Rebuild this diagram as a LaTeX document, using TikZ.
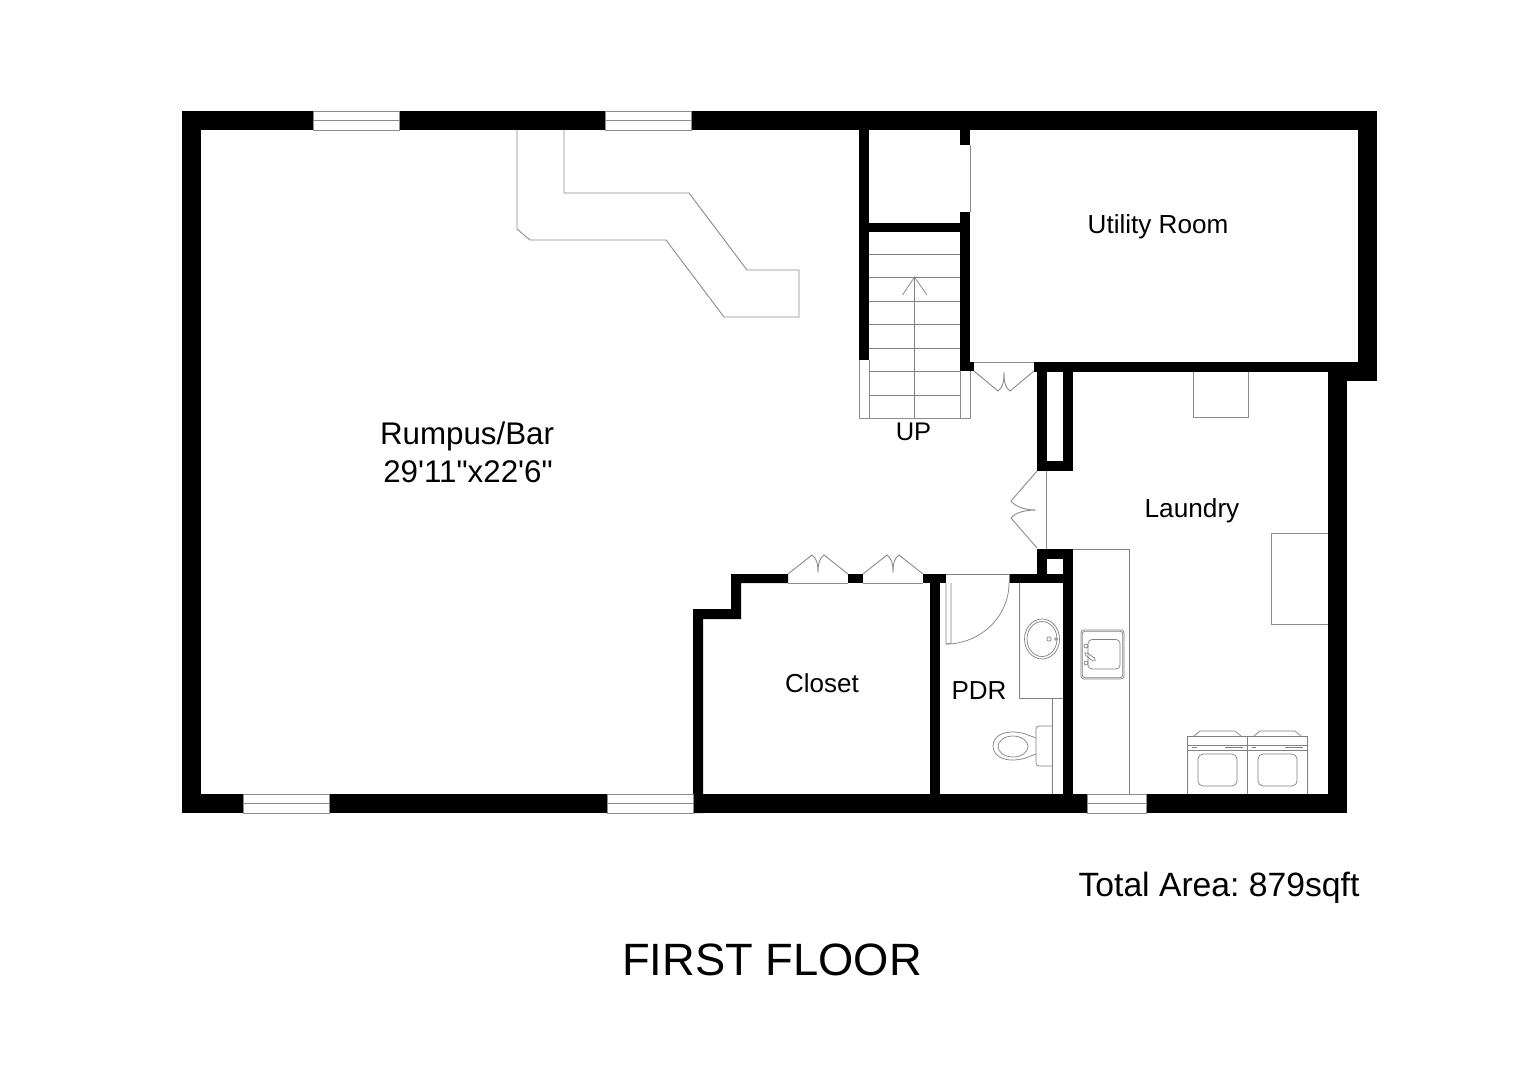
\documentclass[tikz,border=0pt]{standalone}
\usepackage{fontspec}
\setmainfont{Liberation Sans}
\newfontfamily\plainsans{Liberation Sans}
\frenchspacing
\tikzset{
  wall/.style={fill=black,draw=none},
  thin line/.style={draw=black!45,line width=0.9pt,line join=miter},
  fine line/.style={draw=black!50,line width=0.7pt},
  win/.style={fill=white,draw=black!45,line width=0.9pt},
  lbl/.style={inner sep=0pt,anchor=base,text=black},
}
\newcommand{\wl}[4]{\fill[wall] (#1,#2) rectangle (#3,#4);}
\newcommand{\winh}[2]{\draw[win] (#1,#2) rectangle ++(86,19); \draw[thin line] (#1,#2+9.5) -- ++(86,0);}
\begin{document}
\begin{tikzpicture}[x=1pt,y=-1pt]
\useasboundingbox (0,0) rectangle (1528,1080);
\fill[white] (0,0) rectangle (1528,1080);
% outer walls
\wl{182}{111}{1377}{130}
\wl{182}{111}{201}{813}
\wl{182}{794}{1347}{813}
\wl{1358}{111}{1377}{381}
\wl{1328}{362}{1377}{381}
\wl{1328}{362}{1347}{813}
\wl{1034}{362}{1377}{372}
% stair and closet under stair
\wl{859}{130}{869}{360}
\wl{859}{223}{970}{232}
\wl{960}{130}{970}{145}
\wl{960}{212}{970}{371}
\wl{960}{362}{974}{371}
% shaft
\wl{1037}{372}{1046.5}{471}
\wl{1063}{372}{1072.5}{471}
\wl{1037}{461}{1072.5}{471}
\wl{1037}{549}{1072.5}{559}
\wl{1037}{549}{1046.5}{583}
\wl{1063}{549}{1072.5}{794}
\wl{1009}{574}{1072.5}{583}
% closet
\fill[wall] (693,813) -- (693,609) -- (731,609) -- (731,574) -- (788,574) -- (788,583) -- (741,583) -- (741,619) -- (703,619) -- (703,813) -- cycle;
\wl{848}{574}{863}{583}
\wl{923}{574}{946}{583}
\wl{930}{574}{940}{794}
% windows
\winh{313}{111}
\winh{605}{111}
\winh{243}{794}
\winh{607.5}{794}
\draw[win] (1087,794) rectangle (1146,813); \draw[thin line] (1087,803.5) -- (1146,803.5);
% utility closet gap
\draw[thin line] (970,145) -- (970,212);
% stairs
\draw[thin line] (859,360) -- (859,418) -- (970,418) -- (970,371);
\draw[thin line] (869,360) -- (869,418);
\draw[thin line] (960,371) -- (960,418);
\foreach \yy in {254,277,301,324,348,371,395} {\draw[fine line] (869,\yy) -- (960,\yy);}
\draw[fine line] (914.5,418) -- (914.5,277);
\draw[fine line] (902.5,295) -- (914.5,277) -- (927,295);
% bar
\draw[thin line] (517,130) -- (517,229) -- (530,240) -- (666,240) -- (724,317) -- (799,317) -- (799,270) -- (747,270) -- (689,193) -- (564,193) -- (564,130);
% bifold doors
\draw[thin line] (974,362) -- (1034,362);
\draw[thin line] (974,371) -- (998,391) .. controls (1002,388) and (1004,384) .. (1004,372) .. controls (1004,384) and (1006,388) .. (1010,391) -- (1034,371);
\draw[thin line] (788,583) -- (848,583);
\draw[thin line] (788,574) -- (812,555) .. controls (816,558) and (818,562) .. (818,573) .. controls (818,562) and (820,558) .. (824,555) -- (848,574);
\draw[thin line] (863,583) -- (923,583);
\draw[thin line] (863,574) -- (887,555) .. controls (891,558) and (893,562) .. (893,573) .. controls (893,562) and (895,558) .. (899,555) -- (923,574);
\draw[thin line] (1046.5,471) -- (1046.5,549);
\draw[thin line] (1037,471) -- (1011,501) .. controls (1014,505) and (1022,510) .. (1036,510) .. controls (1022,510) and (1014,514) .. (1011,518) -- (1037,548);
% pdr door
\draw[fine line] (946,574) -- (1009,574) -- (1009,583);
\draw[fine line] (946,583) -- (946,644) -- (951,643.5) -- (951,583);
\draw[fine line] (946,644) .. controls (980,644) and (1009,617) .. (1009,583);
% vanity
\draw[fine line] (1019,583) -- (1019,698) -- (1063,698);
\draw[fine line] (1052,698) -- (1052,794);
\draw[fine line] (1042,639) ellipse (17.5 and 20);
\draw[fine line] (1042,639) ellipse (15 and 17.5);
\draw[fine line] (1049,639) circle (2.2);
\draw[fine line] (1056,639) circle (1.4);
% toilet
\draw[fine line,rounded corners=3pt] (1052,726) -- (1036,726) -- (1036,766) -- (1052,766);
\draw[fine line] (1036,738) -- (1024,733.5) .. controls (1006,729) and (993,735) .. (993,746) .. controls (993,757) and (1006,763) .. (1024,758.5) -- (1036,754);
\draw[fine line] (1013,746.5) ellipse (15 and 10.5);
% laundry cabinets
\draw[thin line] (1193,372) -- (1193,417) -- (1248,417) -- (1248,372);
\draw[thin line] (1328,533) -- (1271,533) -- (1271,624) -- (1328,624);
\draw[fine line] (1072.5,549) -- (1129,549) -- (1129,794);
% utility sink
\draw[fine line,rounded corners=3pt] (1081,630) rectangle (1124,679);
\draw[fine line,rounded corners=3pt] (1082.2,631.2) rectangle (1122.8,677.8);
\draw[fine line,rounded corners=4pt] (1088,639.5) rectangle (1120,669);
\draw[fine line] (1086,646) circle (2);
\draw[fine line] (1086,663) circle (2);
\draw[fine line,rounded corners=1.5pt] (1084,654) -- (1086,652) -- (1096,659) -- (1094,662) -- cycle;
% washer and dryer
\draw[fine line] (1187,794) -- (1187,736) -- (1307,736) -- (1307,794);
\draw[fine line] (1247,736) -- (1247,794);
\draw[fine line] (1187,745) -- (1307,745);
\draw[fine line] (1187,750) -- (1307,750);
\draw[fine line] (1194,736) -- (1200,731) -- (1235,731) -- (1241,736);
\draw[fine line] (1254,736) -- (1260,731) -- (1295,731) -- (1301,736);
\draw[fine line,rounded corners=5pt] (1198,754) rectangle (1237,786);
\draw[fine line,rounded corners=5pt] (1258,754) rectangle (1297,786);
\draw[fine line] (1192,747) -- (1197,747);
\draw[fine line] (1225,747) -- (1243,747);
\draw[fine line] (1252,747) -- (1256,747);
\draw[fine line] (1285,747) -- (1303,747);
% labels
\node[lbl,font=\fontsize{31.3}{31.3}\selectfont] (rumpus) at (467,444) {Rumpus/Bar};
\node[lbl,font=\plainsans\fontsize{31.3}{31.3}\selectfont] (rumpusdim) at (468,482) {29'11"x22'6"};
\node[lbl,font=\fontsize{26.1}{26}\selectfont] (utility) at (1158,233) {Utility Room};
\node[lbl,font=\fontsize{26.2}{26}\selectfont] (laundry) at (1192,517) {Laundry};
\node[lbl,font=\fontsize{26}{26}\selectfont] (closet) at (822,692) {Closet};
\node[lbl,font=\fontsize{26}{26}\selectfont] (pdr) at (979,699) {PDR};
\node[lbl,font=\fontsize{25.5}{25}\selectfont] (up) at (913.5,440) {UP};
\node[lbl,font=\fontsize{33.7}{33.6}\selectfont] (total) at (1219,896.5) {Total Area: 879sqft};
\node[lbl,font=\fontsize{45.3}{45}\selectfont] (floor) at (772,975) {FIRST FLOOR};
\end{tikzpicture}
\end{document}
